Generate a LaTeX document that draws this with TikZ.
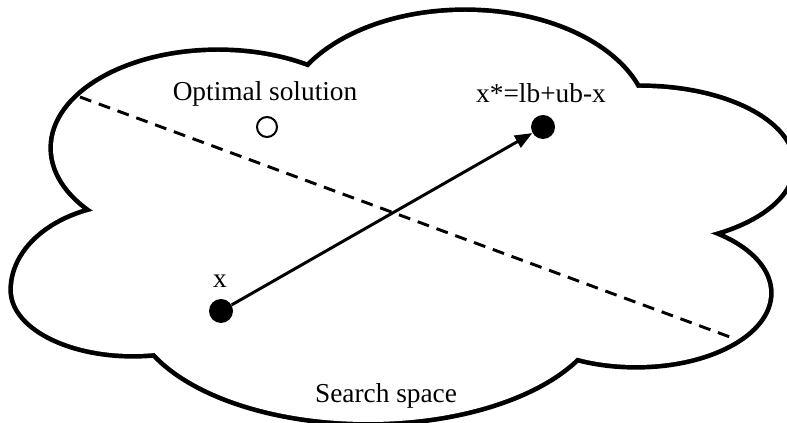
\documentclass[tikz,border=0pt]{standalone}
\usepackage{fontspec}
\setmainfont{Liberation Serif}
\usepackage{tikz}
\usetikzlibrary{
  arrows.meta, % 三角形箭头
  calc         % 坐标计算
}

\begin{document}
\begin{tikzpicture}[x=0.75pt, y=0.75pt, >={Triangle[length=13pt, width=10pt]},
  cloudedge/.style={line width=7pt}, % 只露出外侧一半，实际线宽 3.5pt
  dot/.style={circle, fill=black, inner sep=0pt, minimum size=18pt},
  hollow/.style={circle, draw=black, line width=1.5pt, inner sep=0pt, minimum size=15pt},
  txt/.style={font=\fontsize{20.5}{24}\selectfont, inner sep=0pt}] % 单位取 0.75pt，坐标即像素
  \useasboundingbox (0,0) rectangle (787,423); % 固定画面大小

  % 云朵：几个椭圆的并集，先描粗边，再用白色填满，只留外侧一半线宽
  \foreach \cx/\cy/\rx/\ry in {218/275/165/96, 465/298/182/113, 640/258/152/77,
      636/130/133/72, 368/120/235/119}
    \draw[cloudedge] (\cx,\cy) ellipse [x radius=\rx, y radius=\ry];
  \draw[cloudedge] (13,133) arc[start angle=180, end angle=360, x radius=120, y radius=64]
    arc[start angle=0, end angle=180, x radius=120, y radius=84] -- cycle; % 左下方的蛋形
  \foreach \cx/\cy/\rx/\ry in {218/275/165/96, 465/298/182/113, 640/258/152/77,
      636/130/133/72, 368/120/235/119, 400/210/260/130}
    \fill[white] (\cx,\cy) ellipse [x radius=\rx, y radius=\ry]; % 最后一个只用来填中间
  \fill[white] (13,133) arc[start angle=180, end angle=360, x radius=120, y radius=64]
    arc[start angle=0, end angle=180, x radius=120, y radius=84] -- cycle;

  % 分界虚线
  \coordinate (D1) at (80,326); % 左端落在云朵边上
  \coordinate (D2) at (734,84.5); % 右端落在云朵边上
  \draw[line width=2.2pt, dash pattern=on 9pt off 6pt] (D1) -- (D2);

  % 点与文字
  \node[hollow] (opt) at (267,296) {}; % 最优解
  \node[txt] (optlabel) at (265,329) {Optimal solution};
  \node[dot] (xpt) at (221,112) {}; % 当前解 x
  \node[txt] (xlabel) at (220,141.5) {x};
  \node[dot] (xstar) at (543,296) {}; % 反向解 x*
  \node[txt] (xstarlabel) at (541,329.5) {x*=lb+ub-x};
  \node[txt] (space) at (386,27) {Search space};

  \draw[->, line width=2.2pt] (xpt) -- (xstar); % 由 x 指向 x*
\end{tikzpicture}
\end{document}
